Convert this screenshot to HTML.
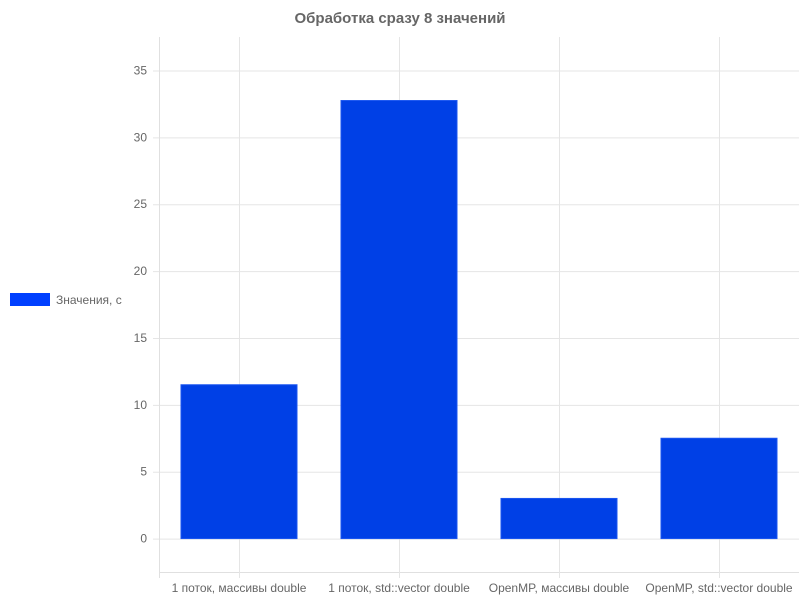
<!DOCTYPE html>
<html><head><meta charset="utf-8"><style>
body{margin:0;background:#fff;}
svg{display:block;font-family:"Liberation Sans",sans-serif;}
</style></head><body>
<svg id="c" width="800" height="600">
<text x="400" y="23" text-anchor="middle" font-size="15" font-weight="bold" fill="#666">Обработка сразу 8 значений</text>
<g>
<rect x="10" y="293" width="40" height="13" fill="#0040ff"/>
<text x="56" y="304" font-size="12" fill="#666">Значения, с</text>
</g>
<g id="grid"></g><g id="bars"></g><g id="axes"></g>
</svg>
<script>
const categories=["1 поток, массивы double","1 поток, std::vector double","OpenMP, массивы double","OpenMP, std::vector double"];
const values=[11.5,32.75,3.0,7.5];
const yTicks=[0,5,10,15,20,25,30,35];
const L=159,R=799,T=37,B=572,yMin=-2.5,yMax=37.5;
const ns="http://www.w3.org/2000/svg";
const y=v=>B-(v-yMin)/(yMax-yMin)*(B-T);
const bw=(R-L)/categories.length;
const xc=i=>L+bw*(i+0.5);
function mk(t,a,p){const e=document.createElementNS(ns,t);for(const k in a)e.setAttribute(k,a[k]);document.getElementById(p).appendChild(e);return e;}
yTicks.forEach(v=>{
 const l=mk('line',{x1:153,x2:R,y1:y(v)+0.5,y2:y(v)+0.5,stroke:'#e5e5e5'},'grid');
 
 
 const t=mk('text',{x:147,y:y(v)+4,'text-anchor':'end','font-size':12,fill:'#666'},'axes');
 t.textContent=v;
 
 
});
mk('line',{x1:L+0.5,x2:L+0.5,y1:T,y2:B+6,stroke:'#e0e0e0'},'grid');
mk('line',{x1:L,x2:R,y1:B+0.5,y2:B+0.5,stroke:'#e0e0e0'},'grid');
categories.forEach((c,i)=>{
 const g=mk('line',{x1:xc(i)+0.5,x2:xc(i)+0.5,y1:T,y2:B+6,stroke:'#e5e5e5'},'grid');
 
 
 const w=bw*0.725;
 const r=mk('rect',{x:xc(i)-w/2,y:y(values[i]),width:w,height:y(0)-y(values[i]),fill:'#0040e6',stroke:'#1a55f0','stroke-width':1},'bars');
 
 
 const t=mk('text',{x:xc(i),y:592,'text-anchor':'middle','font-size':12,fill:'#666'},'axes');
 t.textContent=c;
 
 
});
</script>
</body></html>
